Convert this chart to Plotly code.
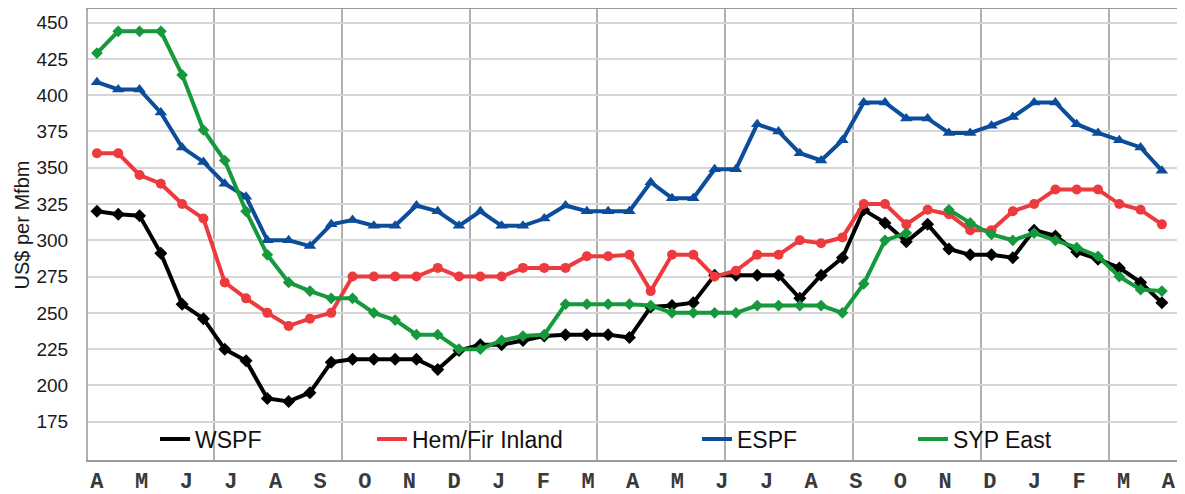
import numpy as np
import plotly.graph_objects as go

# ---- data (biweekly price points, US$ per Mfbm) ----
months = ["A", "M", "J", "J", "A", "S", "O", "N", "D", "J", "F", "M",
          "A", "M", "J", "J", "A", "S", "O", "N", "D", "J", "F", "M", "A"]

wspf = [320, 318, 317, 291, 256, 246, 225, 217, 191, 189, 195, 216, 218, 218, 218, 218, 211,
        224, 228, 228, 231, 234, 235, 235, 235, 233, 254, 255, 257, 276, 276, 276, 276, 260,
        276, 288, 321, 312, 299, 311, 294, 290, 290, 288, 307, 303, 292, 287, 281, 271, 257]

hem_fir = [360, 360, 345, 339, 325, 315, 271, 260, 250, 241, 246, 250, 275, 275, 275, 275, 281,
           275, 275, 275, 281, 281, 281, 289, 289, 290, 265, 290, 290, 275, 279, 290, 290, 300,
           298, 302, 325, 325, 311, 321, 318, 307, 307, 320, 325, 335, 335, 335, 325, 321, 311]

espf = [409, 404, 404, 388, 364, 354, 339, 330, 300, 300, 296, 311, 314, 310, 310, 324, 320,
        310, 320, 310, 310, 315, 324, 320, 320, 320, 340, 329, 329, 349, 349, 380, 375, 360,
        355, 369, 395, 395, 384, 384, 374, 374, 379, 385, 395, 395, 380, 374, 369, 364, 348]

syp_east = [429, 444, 444, 444, 414, 376, 355, 320, 290, 271, 265, 260, 260, 250, 245, 235, 235,
            225, 225, 231, 234, 235, 256, 256, 256, 256, 255, 250, 250, 250, 250, 255, 255, 255,
            255, 250, 270, 300, 305, None, 321, 312, 304, 300, 305, 300, 295, 289, 275, 266, 265]

series_names = ["WSPF", "Hem/Fir Inland", "ESPF", "SYP East"]
y_ticks = list(range(175, 451, 25))

# ---- styling ----
colors = ["#000000", "#ec3a3e", "#0b4d9b", "#16983c"]
symbols = ["diamond", "circle", "triangle-up", "diamond"]
msizes = [10, 10, 11, 9]
series = [wspf, hem_fir, espf, syp_east]

n = len(wspf)
x = list(range(n))
month_pos = np.linspace(0, 50.3, len(months))
quarter_lines = [5.5 + 6 * k for k in range(8)]

fig = go.Figure()
for name, ys, c, s, ms in zip(series_names, series, colors, symbols, msizes):
    fig.add_trace(go.Scatter(
        x=x, y=ys, name=name, mode="lines+markers",
        line=dict(color=c, width=4),
        marker=dict(symbol=s, size=ms, color=c),
        showlegend=False, connectgaps=False,
    ))

# page body adds an 8px offset; layout values below are in figure pixels
L, T, H = 80, 1, 451
W = 1185 - L
legend_text_x = [195, 412, 737, 953]
legend_keys = ["legend", "legend2", "legend3", "legend4"]
for name, c, key in zip(series_names, colors, legend_keys):
    fig.add_trace(go.Scatter(
        x=[None], y=[None], name=name, mode="lines",
        line=dict(color=c, width=4), legend=key, showlegend=True,
    ))

legend_font = dict(family="Liberation Sans", size=23, color="#111111")
legend_y = 1 - (431 - T) / H
leg_layouts = {}
for key, tx in zip(legend_keys, legend_text_x):
    leg_layouts[key] = dict(
        x=(tx - 48 - L) / W, y=legend_y, xanchor="left", yanchor="middle",
        orientation="h", bgcolor="rgba(0,0,0,0)", borderwidth=0,
        font=legend_font, itemwidth=30,
    )

fig.update_layout(
    width=1185, height=494,
    margin=dict(l=L, r=0, t=T, b=494 - T - H, autoexpand=False),
    plot_bgcolor="white", paper_bgcolor="white",
    **leg_layouts,
)

fig.update_xaxes(
    range=[-0.42, 51.46], automargin=False,
    tickmode="array", tickvals=month_pos, ticktext=months,
    showgrid=False, zeroline=False, ticks="",
    tickfont=dict(family="Liberation Mono", size=22, color="#3a3a3a", weight="bold"),
    ticklabelstandoff=0,
    showline=True, linecolor="#9a9a9a", linewidth=2, mirror=True,
    minor=dict(tickmode="array", tickvals=quarter_lines, showgrid=True,
               gridcolor="#b0b0b0", gridwidth=1.5, ticks=""),
)
fig.update_yaxes(
    range=[148.6, 459.4], automargin=False,
    tickmode="array", tickvals=y_ticks,
    showgrid=True, gridcolor="#d6d6d6", gridwidth=1.5, zeroline=False, ticks="",
    tickfont=dict(family="Liberation Sans", size=19, color="#1a1a1a"),
    ticklabelstandoff=14,
    showline=True, linecolor="#b0b0b0", linewidth=2,
)

fig.add_annotation(
    text="US$ per Mfbm", textangle=-90,
    xref="paper", yref="paper", x=(14 - L) / W, y=0.52,
    xanchor="center", yanchor="middle", showarrow=False,
    font=dict(family="Liberation Sans", size=20, color="#1a1a1a"),
)

fig.write_html("out.html")
